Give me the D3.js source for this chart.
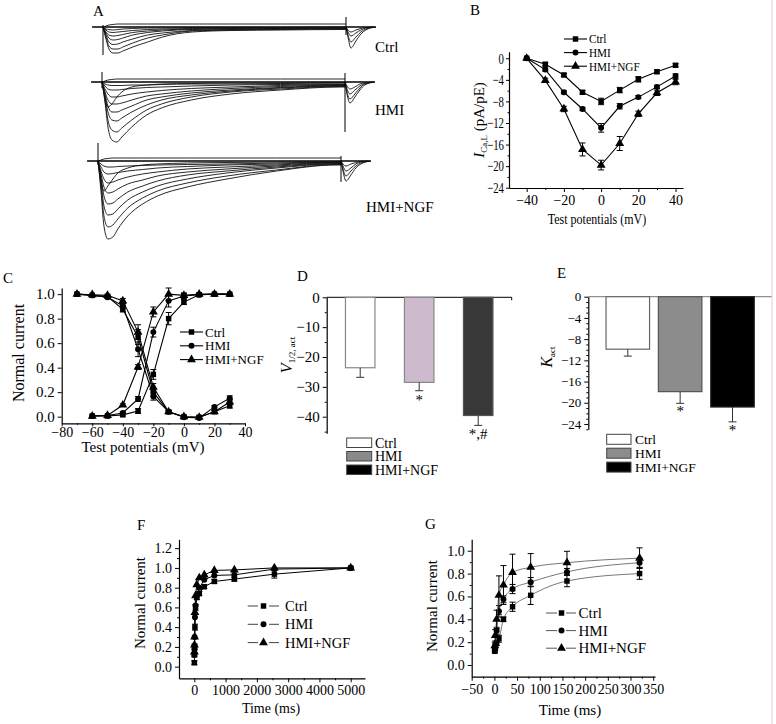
<!DOCTYPE html>
<html><head><meta charset="utf-8">
<script src="https://cdn.jsdelivr.net/npm/d3@7"></script>
<style>
body{margin:0;background:#fff;}
svg{display:block;}
</style></head><body>
<svg id="fig" width="776" height="724"></svg>
<script>
// ---------------- DATA ----------------
// Panel A: current traces (arbitrary units), sampled at traceTimes (ms after pulse onset)
const traceTimes = [0,3,6,10,15,20,30,45,60,90,130,180,240];
const ctrlTraces = [
 [0,-12,-22,-26,-26,-24,-20,-15,-10,-5,-3.5,-3,-2.5],
 [0,-10,-19,-22,-22,-20,-16,-11,-8,-4,-3,-2.5,-2],
 [0,-8,-15,-17.5,-17,-15,-12,-8,-6,-3.5,-2.5,-2,-1.5],
 [0,-6,-11,-13,-12.5,-11,-8,-5.5,-4,-2.5,-2,-1.5,-1],
 [0,-5,-8,-9,-8.5,-7.5,-5.5,-4,-3,-2,-1.5,-1,-1],
 [0,-3,-5,-5.5,-5,-4.5,-3.5,-2.5,-2,-1.5,-1,-1,-0.5],
 [0,-2,-2.5,-3,-2.5,-2,-1.5,-1,-1,-0.5,-0.5,-0.5,0],
 [0,1,2,2.5,3,3,3,3,3,3,3,3,3]
];
const hmiTraces = [
 [0,-20,-45,-58,-60,-55,-45,-33,-26,-18,-12,-8,-5],
 [0,-18,-38,-48,-50,-46,-38,-28,-22,-15,-10,-7,-4.5],
 [0,-15,-30,-38,-39,-36,-30,-23,-18,-13,-9,-6,-4],
 [0,-12,-24,-30,-30,-28,-24,-18,-15,-11,-8,-5.5,-3.5],
 [0,-10,-18,-22,-22,-21,-18,-14,-12,-9,-6.5,-4.5,-3],
 [0,-7,-12,-15,-15,-14,-12,-10,-8.5,-6.5,-5,-3.5,-2.5],
 [0,-4,-7,-8,-8,-7.5,-6.5,-5.5,-5,-4,-3,-2.5,-2],
 [0,-2,-3,-3.5,-3.5,-3.5,-3,-3,-2.5,-2,-2,-1.5,-1],
 [0,-15,-25,-22,-15,-10,-5,-3,-2,-1.5,-1,-1,-0.5],
 [0,1,2,2.5,3,3,3,3,3,3,3,3,3]
];
const ngfTraces = [
 [0,-30,-65,-78,-76,-68,-55,-43,-35,-26,-18,-10,-4],
 [0,-25,-55,-66,-64,-58,-47,-37,-30,-22,-15,-9,-3.5],
 [0,-20,-45,-54,-53,-48,-39,-31,-25,-18,-12,-7,-3],
 [0,-16,-35,-43,-42,-38,-31,-25,-20,-14,-10,-6,-2.5],
 [0,-13,-26,-32,-31,-28,-23,-19,-15,-11,-8,-5,-2],
 [0,-10,-18,-22,-21,-19,-16,-13,-11,-8,-6,-4,-1.5],
 [0,-6,-11,-13,-12.5,-11.5,-10,-8.5,-7,-5.5,-4,-3,-1],
 [0,-3,-5,-6,-6,-5.5,-5,-4.5,-4,-3.5,-3,-2,-1],
 [0,-20,-30,-25,-18,-12,-7,-4,-3,-2,-1.5,-1,-0.5],
 [0,1,2,2.5,3,3,3,3,3,3,3,3,3]
];
const tailTimes = [0,2,5,10,15,20,30];
const ctrlTails = [[0,-10,-21,-14,-7,-3,0],[0,-8,-15,-10,-5,-2,0],[0,-5,-9,-6,-3,-1,0],[0,-3,-5,-3,-1.5,-0.5,0]];
const hmiTails  = [[0,-12,-21,-15,-8,-3,0],[0,-10,-17,-12,-6,-2,0],[0,-7,-12,-8,-4,-1.5,0],[0,-4,-7,-5,-2,-1,0]];
const ngfTails  = [[0,-10,-20,-14,-7,-3,0],[0,-8,-15,-10,-5,-2,0],[0,-5,-10,-7,-3,-1,0],[0,-3,-5,-3,-1.5,-0.5,0]];
const ctrlSpikes = [[2,-28],[10,-8]];
const hmiSpikes  = [[10,-6],[9,-50]];
const ngfSpikes  = [[18,-4],[5,-21]];
const groupNames = ["Ctrl","HMI","HMI+NGF"];

// Panel B: I-V
const ivVoltages = [-40,-30,-20,-10,0,10,20,30,40];
const ivCtrl = [0,-1.1,-3.1,-6.3,-8.0,-5.9,-3.9,-2.5,-1.3];
const ivHmi  = [0,-2.1,-6.3,-9.4,-12.9,-8.9,-7.2,-5.3,-3.3];
const ivNgf  = [0,-4.1,-9.4,-16.9,-19.8,-15.8,-10.3,-6.4,-4.4];
const ivCtrlErr = [0,0.3,0.3,0.3,0.6,0.5,0.5,0.3,0.3];
const ivHmiErr  = [0,0.3,0.3,0.3,0.8,0.5,0.3,0.3,0.4];
const ivNgfErr  = [0,0.4,0.5,1.2,0.9,1.3,0.5,0.5,0.5];
const ivYTicks = [0,-4,-8,-12,-16,-20,-24];
const ivXTicks = [-40,-20,0,20,40];

// Panel C: steady-state activation / inactivation
const inactVoltages = [-70,-60,-50,-40,-30,-20,-10,0,10,20,30];
const inactCtrl = [1.0,0.99,0.98,0.875,0.65,0.2,0.04,0.0,-0.005,0.04,0.09];
const inactHmi  = [1.0,0.99,0.975,0.905,0.55,0.165,0.04,-0.005,-0.01,0.08,0.15];
const inactNgf  = [1.0,0.995,0.99,0.945,0.69,0.24,0.04,0.0,-0.005,0.04,0.12];
const inactErr  = [0,0,0.01,0.02,0.06,0.03,0.01,0.01,0.01,0.01,0.02];
const actVoltages = [-60,-50,-40,-30,-20,-10,0,10,20,30];
const actCtrl = [0.005,0.005,0.015,0.046,0.345,0.8,0.935,0.995,1.0,1.0];
const actHmi  = [0.005,0.01,0.03,0.145,0.69,0.945,0.985,0.995,1.0,1.0];
const actNgf  = [0.005,0.01,0.095,0.405,0.855,1.0,0.99,1.0,1.0,1.0];
const actErr  = [0,0,0.01,0.02,0.04,0.05,0.02,0.01,0,0];
const ssYTicks = [0,0.2,0.4,0.6,0.8,1.0];
const ssXTicks = [-80,-60,-40,-20,0,20,40];

// Panel D: V1/2,act
const vhalfValues = [-23.6,-28.5,-39.6];
const vhalfErr = [3.2,2.8,3.3];
const vhalfMarks = ["","*","*,#"];
const vhalfTicks = [0,-10,-20,-30,-40];

// Panel E: Kact
const kactValues = [-9.9,-17.9,-20.8];
const kactErr = [1.3,2.2,2.8];
const kactMarks = ["","*","*"];
const kactTicks = [0,-4,-8,-12,-16,-20,-24];

// Panel F: recovery (long)
const recTimesF = [2,5,10,20,40,80,160,320,640,1280,2560,5000];
const recCtrlF = [0.04,0.12,0.2,0.4,0.6,0.7,0.74,0.81,0.863,0.887,0.937,1.0];
const recHmiF  = [0.12,0.18,0.3,0.5,0.62,0.72,0.8,0.88,0.924,0.93,0.988,1.0];
const recNgfF  = [0.15,0.22,0.3,0.55,0.72,0.83,0.9,0.93,0.975,0.98,1.0,1.0];
const recCtrlFErr = [0.02,0.02,0.03,0.03,0.03,0.02,0.02,0.02,0.02,0.02,0.04,0.01];
const recYTicksF = [0,0.2,0.4,0.6,0.8,1.0,1.2];
const recXTicksF = [0,1000,2000,3000,4000,5000];

// Panel G: recovery (short)
const recTimesG = [1,2,5,10,20,40,80,160,320];
const recCtrlG = [0.12,0.15,0.19,0.23,0.40,0.51,0.61,0.735,0.80];
const recHmiG  = [0.14,0.17,0.30,0.47,0.575,0.665,0.725,0.815,0.895];
const recNgfG  = [0.17,0.26,0.40,0.61,0.70,0.81,0.855,0.895,0.935];
const recCtrlGErr = [0.01,0.02,0.02,0.03,0.02,0.04,0.08,0.05,0.05];
const recHmiGErr  = [0.02,0.02,0.03,0.05,0.03,0.04,0.04,0.03,0.04];
const recNgfGErr  = [0.03,0.05,0.08,0.17,0.17,0.16,0.12,0.10,0.09];
const recYTicksG = [0,0.2,0.4,0.6,0.8,1.0];
const recXTicksG = [-50,0,50,100,150,200,250,300,350];

// ---------------- DRAWING ----------------
const FONT = '"Liberation Serif","Times New Roman",Times,serif';
const svg = d3.select('#fig').attr('font-family', FONT);
svg.append('rect').attr('width',776).attr('height',724).attr('fill','#fff');

function txt(g, x, y, s, fs, anchor) {
  return g.append('text').attr('x',x).attr('y',y).attr('font-size',fs)
    .attr('text-anchor',anchor||'start').attr('fill','#000').text(s);
}
// horizontally condense text (reference glyphs are narrow in some panels)
function condense(sel, sx) {
  sel.each(function(){
    const t = d3.select(this);
    const x = +t.attr('x') || 0, y = +t.attr('y') || 0;
    t.attr('x',0).attr('y',0).attr('transform',`translate(${x},${y}) scale(${sx},1)`);
  });
}

function yAxis(g, y, xPos, majors, minors, fs, fmt, tick, pad) {
  const a = g.append('g').attr('transform',`translate(${xPos},0)`)
    .call(d3.axisLeft(y).tickValues(majors).tickSize(tick).tickSizeOuter(0).tickPadding(pad).tickFormat(fmt))
    .attr('font-family',FONT).attr('font-size',fs);
  a.select('.domain').attr('stroke-width',1.2);
  a.selectAll('text').attr('fill','#000');
  if (minors) g.append('g').attr('transform',`translate(${xPos},0)`)
    .call(d3.axisLeft(y).tickValues(minors).tickSize(tick/2).tickFormat(()=>''))
    .call(s=>s.select('.domain').remove());
  return a;
}
function xAxis(g, x, yPos, majors, minors, fs, fmt, tick, pad) {
  const a = g.append('g').attr('transform',`translate(0,${yPos})`)
    .call(d3.axisBottom(x).tickValues(majors).tickSize(tick).tickSizeOuter(0).tickPadding(pad).tickFormat(fmt))
    .attr('font-family',FONT).attr('font-size',fs);
  a.select('.domain').attr('stroke-width',1.2);
  a.selectAll('text').attr('fill','#000');
  if (minors) g.append('g').attr('transform',`translate(0,${yPos})`)
    .call(d3.axisBottom(x).tickValues(minors).tickSize(tick/2).tickFormat(()=>''))
    .call(s=>s.select('.domain').remove());
  return a;
}

const SYM = {sq: d3.symbolSquare, ci: d3.symbolCircle, tr: d3.symbolTriangle};
const SYMSIZE = {sq: 30, ci: 28, tr: 34};

function drawSeries(g, x, y, xs, ys, errs, shape, o) {
  o = Object.assign({stroke:'#000', width:1.1, curve:d3.curveLinear, cap:3, msize:1, errColor:'#000'}, o||{});
  const pts = xs.map((v,i)=>[v, ys[i]]);
  g.append('path').attr('d', d3.line().x(d=>x(d[0])).y(d=>y(d[1])).curve(o.curve)(pts))
    .attr('fill','none').attr('stroke',o.stroke).attr('stroke-width',o.width);
  if (errs) pts.forEach((p,i)=>{
    const e = errs[i]; if (!e) return;
    const cx = x(p[0]), y1 = y(p[1]-e), y2 = y(p[1]+e);
    g.append('line').attr('x1',cx).attr('x2',cx).attr('y1',y1).attr('y2',y2).attr('stroke',o.errColor).attr('stroke-width',1);
    [y1,y2].forEach(yy=>g.append('line').attr('x1',cx-o.cap).attr('x2',cx+o.cap).attr('y1',yy).attr('y2',yy).attr('stroke',o.errColor).attr('stroke-width',1));
  });
  g.selectAll(null).data(pts).join('path')
    .attr('transform',d=>`translate(${x(d[0])},${y(d[1])})`)
    .attr('d', d3.symbol(SYM[shape], SYMSIZE[shape]*o.msize)).attr('fill','#000');
}

function lineLegend(g, items, o) {
  const texts = [];
  items.forEach((it,i)=>{
    const yy = o.y0 + i*o.dy;
    if (o.gap) {
      g.append('line').attr('x1',o.x1).attr('x2',o.mx-o.gap).attr('y1',yy).attr('y2',yy).attr('stroke',o.stroke||'#000').attr('stroke-width',1);
      g.append('line').attr('x1',o.mx+o.gap).attr('x2',o.x2).attr('y1',yy).attr('y2',yy).attr('stroke',o.stroke||'#000').attr('stroke-width',1);
    } else {
      g.append('line').attr('x1',o.x1).attr('x2',o.x2).attr('y1',yy).attr('y2',yy).attr('stroke','#000').attr('stroke-width',1.1);
    }
    g.append('path').attr('transform',`translate(${o.mx},${yy})`).attr('d',d3.symbol(SYM[it.shape],SYMSIZE[it.shape])).attr('fill','#000');
    texts.push(txt(g, o.tx, yy + o.fs*0.35, it.label, o.fs).node());
  });
  if (o.sx) condense(d3.selectAll(texts), o.sx);
}

// ---------- Panel A ----------
const gA = svg.append('g');
txt(gA, 93, 16, 'A', 15);
const rowsA = [
  {traces: ctrlTraces, tails: ctrlTails, spikes: ctrlSpikes, x0: 103, base: 27, lx: 375, ly: 52},
  {traces: hmiTraces,  tails: hmiTails,  spikes: hmiSpikes,  x0: 102, base: 82, lx: 375, ly: 115},
  {traces: ngfTraces,  tails: ngfTails,  spikes: ngfSpikes,  x0: 98,  base: 161, lx: 366, ly: 212}
];
const pulseEnd = 245;
rowsA.forEach((r, ri)=>{
  const xA = d3.scaleLinear().domain([0, pulseEnd]).range([r.x0, r.x0 + 243]);
  const yA = d3.scaleLinear().domain([0, -100]).range([r.base, r.base + 100]);
  const ln = d3.line().x(d=>xA(d[0])).y(d=>yA(d[1])).curve(d3.curveMonotoneX);
  gA.append('line').attr('x1',xA(-11)).attr('x2',xA(273)).attr('y1',yA(0)).attr('y2',yA(0))
    .attr('stroke','#000').attr('stroke-width',1.6);
  r.traces.forEach(tr=>{
    const pts = traceTimes.map((t,i)=>[t, tr[i]]);
    pts.push([pulseEnd, tr[tr.length-1]]);
    gA.append('path').attr('d', ln(pts)).attr('fill','none').attr('stroke','#111').attr('stroke-width',0.9);
  });
  r.tails.forEach(tl=>{
    const pts = tailTimes.map((t,i)=>[pulseEnd + t, tl[i]]);
    gA.append('path').attr('d', ln(pts)).attr('fill','none').attr('stroke','#111').attr('stroke-width',0.9);
  });
  [[0, r.spikes[0]], [pulseEnd, r.spikes[1]]].forEach(([t, s])=>{
    gA.append('line').attr('x1',xA(t)).attr('x2',xA(t)).attr('y1',yA(s[0])).attr('y2',yA(s[1]))
      .attr('stroke','#000').attr('stroke-width',1);
  });
  txt(gA, r.lx, r.ly, groupNames[ri], 15);
});

// ---------- Panel B ----------
const gB = svg.append('g');
txt(gB, 470, 15, 'B', 15);
const xB = d3.scaleLinear().domain([-49.5, 44]).range([509, 683]);
const yB = d3.scaleLinear().domain([-24.05, 1.2]).range([188, 51.8]);
const bYA = yAxis(gB, yB, 509, ivYTicks, [-2,-6,-10,-14,-18,-22], 15, d3.format('d'), 3, 2);
condense(bYA.selectAll('text'), 0.72);
xAxis(gB, xB, 188, ivXTicks, [-30,-10,10,30], 14, d3.format('d'), 4, 3);
drawSeries(gB, xB, yB, ivVoltages, ivCtrl, ivCtrlErr, 'sq');
drawSeries(gB, xB, yB, ivVoltages, ivHmi, ivHmiErr, 'ci');
drawSeries(gB, xB, yB, ivVoltages, ivNgf, ivNgfErr, 'tr');
{
  const t = gB.append('text').attr('transform','translate(484,120) rotate(-90)').attr('text-anchor','middle').attr('font-size',15);
  t.append('tspan').attr('font-style','italic').text('I');
  t.append('tspan').attr('font-size',9).attr('dy',3).text('Ca,L');
  t.append('tspan').attr('dy',-3).text(' (pA/pE)');
}
condense(txt(gB, 597, 224, 'Test potentials (mV)', 15, 'middle'), 0.8);
lineLegend(gB, [{label:'Ctrl',shape:'sq'},{label:'HMI',shape:'ci'},{label:'HMI+NGF',shape:'tr'}],
  {y0: 39, dy: 13.6, x1: 564, x2: 587, mx: 575.5, tx: 589, fs: 12.5, sx: 0.9});

// ---------- Panel C ----------
const gC = svg.append('g');
txt(gC, 3, 283, 'C', 15);
const xC = d3.scaleLinear().domain([-80, 40]).range([61.7, 245]);
const yC = d3.scaleLinear().domain([-0.054, 1.05]).range([423.3, 288]);
yAxis(gC, yC, 61.7, ssYTicks, null, 15, d3.format('.1f'), 4, 3);
xAxis(gC, xC, 423.3, ssXTicks, [-70,-50,-30,-10,10,30], 14, d3.format('d'), 3, 1);
drawSeries(gC, xC, yC, inactVoltages, inactCtrl, inactErr, 'sq');
drawSeries(gC, xC, yC, inactVoltages, inactHmi, inactErr, 'ci');
drawSeries(gC, xC, yC, inactVoltages, inactNgf, inactErr, 'tr');
drawSeries(gC, xC, yC, actVoltages, actCtrl, actErr, 'sq');
drawSeries(gC, xC, yC, actVoltages, actHmi, actErr, 'ci');
drawSeries(gC, xC, yC, actVoltages, actNgf, actErr, 'tr');
gC.append('text').attr('transform','translate(24,353) rotate(-90)').attr('text-anchor','middle').attr('font-size',16).text('Normal current');
txt(gC, 143, 452, 'Test potentials (mV)', 15, 'middle');
lineLegend(gC, [{label:'Ctrl',shape:'sq'},{label:'HMI',shape:'ci'},{label:'HMI+NGF',shape:'tr'}],
  {y0: 332, dy: 13.8, x1: 180, x2: 203, mx: 191.5, tx: 205, fs: 13});

// ---------- Bar panels ----------
function barPanel(g, o) {
  const y = d3.scaleLinear().domain(o.ydom).range(o.yrange);
  const x = d3.scaleBand().domain(groupNames).range(o.xrange).paddingInner(o.pin).paddingOuter(o.pout);
  yAxis(g, y, o.xrange[0], o.ticks, o.minors, o.fs, d3.format('d'), 4, 3);
  g.append('line').attr('x1',o.xrange[0]).attr('x2',o.lineEnd).attr('y1',y(0)).attr('y2',y(0)).attr('stroke',o.zeroColor).attr('stroke-width',1);
  if (o.endTick) g.append('line').attr('x1',o.lineEnd).attr('x2',o.lineEnd).attr('y1',y(0)).attr('y2',y(0)+3).attr('stroke','#000');
  groupNames.forEach((nm,i)=>{
    const v = o.values[i], e = o.errs[i];
    const cx = x(nm) + x.bandwidth()/2;
    g.append('rect').attr('x',x(nm)).attr('width',x.bandwidth()).attr('y',y(0)).attr('height',y(v)-y(0))
      .attr('fill',o.fills[i]).attr('stroke',o.strokes[i]).attr('stroke-width',1.2);
    g.append('line').attr('x1',cx).attr('x2',cx).attr('y1',y(v)).attr('y2',y(v-e)).attr('stroke','#333').attr('stroke-width',1);
    g.append('line').attr('x1',cx-4).attr('x2',cx+4).attr('y1',y(v-e)).attr('y2',y(v-e)).attr('stroke','#333').attr('stroke-width',1);
    if (o.marks[i]) txt(g, cx, y(v-e) + o.markDy, o.marks[i], 15, 'middle');
  });
  groupNames.forEach((nm,i)=>{
    const ty = o.leg.y0 + i*o.leg.dy;
    g.append('rect').attr('x',o.leg.x).attr('y',ty).attr('width',o.leg.w).attr('height',o.leg.h)
      .attr('fill',o.legFills[i]).attr('stroke','#444').attr('stroke-width',1);
    txt(g, o.leg.tx, ty + o.leg.h, nm, o.leg.fs);
  });
  return y;
}

// ---------- Panel D ----------
const gD = svg.append('g');
txt(gD, 297, 281, 'D', 15);
barPanel(gD, {ydom:[-45.56,0], yrange:[433.3,297.3], xrange:[326.7,511.7], pin:0.5, pout:0.318,
  ticks: vhalfTicks, minors:[-5,-15,-25,-35,-45], fs:15, lineEnd:511.7, endTick:true, zeroColor:'#000',
  values: vhalfValues, errs: vhalfErr, marks: vhalfMarks, markDy: 14,
  fills:['#ffffff','#cdbacd','#383838'], strokes:['#888','#888','#555'],
  legFills:['#ffffff','#8a8a8a','#000000'],
  leg:{x:346.7, y0:438, dy:13.5, w:25, h:9.5, tx:375, fs:14}});
{
  const t = gD.append('text').attr('transform','translate(292,355) rotate(-90)').attr('text-anchor','middle').attr('font-size',16);
  t.append('tspan').attr('font-style','italic').text('V');
  t.append('tspan').attr('font-size',9).attr('dy',3).text('1/2, act');
}

// ---------- Panel E ----------
const gE = svg.append('g');
txt(gE, 557, 278, 'E', 15);
const kMinors = d3.range(-25, 1).filter(v=>v % 4 !== 0);
barPanel(gE, {ydom:[-25,0], yrange:[429.3,296.7], xrange:[588.3,772], pin:0.169, pout:0.339,
  ticks: kactTicks, minors: kMinors, fs:13, lineEnd:772, endTick:false, zeroColor:'#777',
  values: kactValues, errs: kactErr, marks: kactMarks, markDy: 13,
  fills:['#ffffff','#8c8c8c','#000000'], strokes:['#666','#555','#222'],
  legFills:['#ffffff','#8c8c8c','#000000'],
  leg:{x:606.7, y0:434.3, dy:13.9, w:24.3, h:10, tx:635, fs:13.5}});
{
  const t = gE.append('text').attr('transform','translate(552,357) rotate(-90)').attr('text-anchor','middle').attr('font-size',16);
  t.append('tspan').attr('font-style','italic').text('K');
  t.append('tspan').attr('font-size',9).attr('dy',3).text('act');
}

// ---------- Panel F ----------
const gF = svg.append('g');
txt(gF, 137, 530, 'F', 15);
const xF = d3.scaleLinear().domain([-489, 5457]).range([179, 365]);
const yF = d3.scaleLinear().domain([-0.118, 1.29]).range([678.3, 539.3]);
yAxis(gF, yF, 179, recYTicksF, [0.1,0.3,0.5,0.7,0.9,1.1], 14, d3.format('.1f'), 4, 3);
xAxis(gF, xF, 678.3, recXTicksF, [500,1500,2500,3500,4500], 14, d3.format('d'), 4, 3);
drawSeries(gF, xF, yF, recTimesF, recCtrlF, recCtrlFErr, 'sq', {width:1});
drawSeries(gF, xF, yF, recTimesF, recHmiF, null, 'ci', {width:1});
drawSeries(gF, xF, yF, recTimesF, recNgfF, null, 'tr', {width:1});
gF.append('text').attr('transform','translate(145,603) rotate(-90)').attr('text-anchor','middle').attr('font-size',15).text('Normal current');
txt(gF, 271, 713, 'Time (ms)', 14, 'middle');
lineLegend(gF, [{label:'Ctrl',shape:'sq'},{label:'HMI',shape:'ci'},{label:'HMI+NGF',shape:'tr'}],
  {y0: 606, dy: 18.3, x1: 247.7, x2: 279, mx: 263.5, gap: 5.5, tx: 285, fs: 14.5, stroke:'#444'});

// ---------- Panel G ----------
const gG = svg.append('g');
txt(gG, 425, 529, 'G', 15);
const xG = d3.scaleLinear().domain([-50, 354]).range([471.7, 655]);
const yG = d3.scaleLinear().domain([-0.102, 1.1]).range([676.7, 539.3]);
yAxis(gG, yG, 471.7, recYTicksG, [0.1,0.3,0.5,0.7,0.9], 14, d3.format('.1f'), 4, 3);
xAxis(gG, xG, 676.7, recXTicksG, [-25,25,75,125,175,225,275,325], 14, d3.format('d'), 4, 3);
drawSeries(gG, xG, yG, recTimesG, recCtrlG, recCtrlGErr, 'sq', {stroke:'#777', width:1, curve:d3.curveMonotoneX});
drawSeries(gG, xG, yG, recTimesG, recHmiG, recHmiGErr, 'ci', {stroke:'#777', width:1, curve:d3.curveMonotoneX});
drawSeries(gG, xG, yG, recTimesG, recNgfG, recNgfGErr, 'tr', {stroke:'#777', width:1, curve:d3.curveMonotoneX});
gG.append('text').attr('transform','translate(437,606) rotate(-90)').attr('text-anchor','middle').attr('font-size',15).text('Normal current');
txt(gG, 570, 715, 'Time (ms)', 15, 'middle');
lineLegend(gG, [{label:'Ctrl',shape:'sq'},{label:'HMI',shape:'ci'},{label:'HMI+NGF',shape:'tr'}],
  {y0: 613, dy: 17.6, x1: 546, x2: 576, mx: 561.5, gap: 4.5, tx: 578.5, fs: 15, stroke:'#555'});

// thin pink frame line at right edge
svg.append('line').attr('x1',772).attr('x2',772).attr('y1',0).attr('y2',724).attr('stroke','#f4caca').attr('stroke-width',1);
</script>
</body></html>
